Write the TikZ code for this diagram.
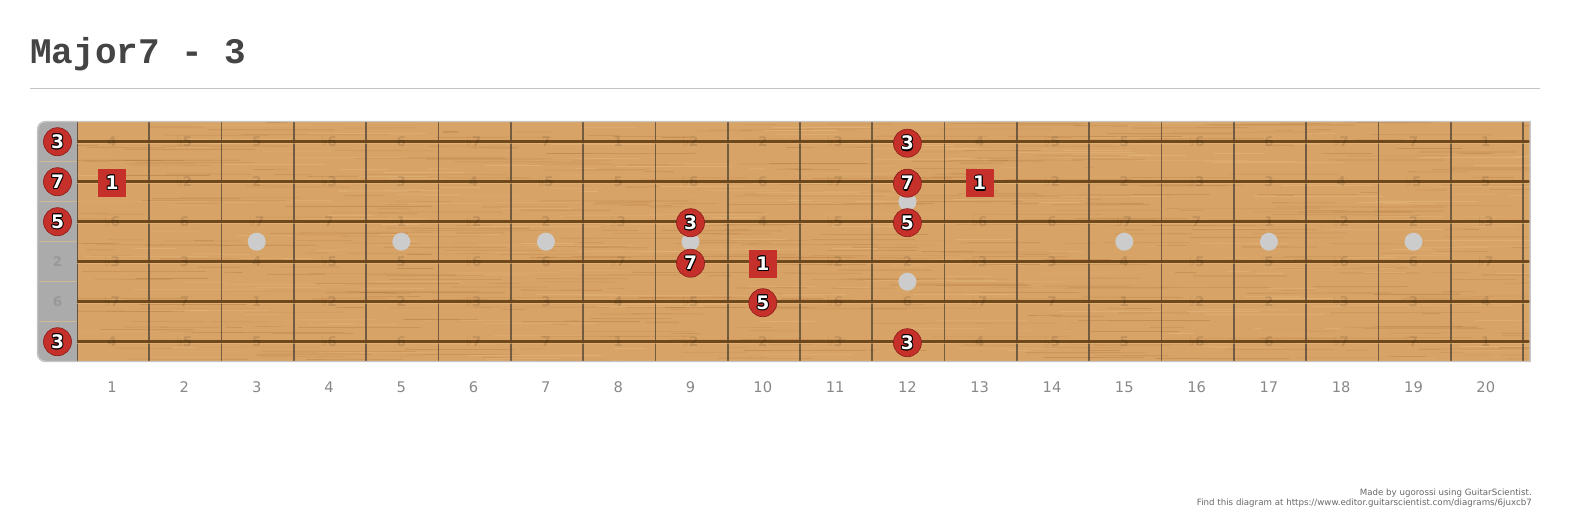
\documentclass[tikz,border=0pt]{standalone}
\usepackage{fontspec}
\setmainfont{DejaVu Sans}
\newfontfamily\titlefont{Liberation Mono}
\definecolor{wood}{HTML}{D8A366}
\definecolor{grainD}{HTML}{A46A32}
\definecolor{grainL}{HTML}{EAC088}
\definecolor{strc}{HTML}{6A4418}
\definecolor{fretc}{HTML}{5A4A3A}
\definecolor{mred}{HTML}{C6302B}
\definecolor{mredD}{HTML}{8E1F1B}
\definecolor{inlay}{HTML}{CCCCCC}
\definecolor{nutc}{HTML}{ABABAB}
\definecolor{bordc}{HTML}{C4C4C4}
\definecolor{titlec}{HTML}{444444}
\definecolor{numc}{HTML}{888888}
\definecolor{footc}{HTML}{666666}
\newsavebox\otbox
\newcommand\otext[1]{\setbox\otbox\hbox{#1}%
  \rlap{\kern0.75pt\textcolor{black}{\copy\otbox}}%
  \rlap{\kern-0.75pt\textcolor{black}{\copy\otbox}}%
  \rlap{\raise0.75pt\hbox{\textcolor{black}{\copy\otbox}}}%
  \rlap{\lower0.75pt\hbox{\textcolor{black}{\copy\otbox}}}%
  \rlap{\kern0.55pt\raise0.55pt\hbox{\textcolor{black}{\copy\otbox}}}%
  \rlap{\kern-0.55pt\raise0.55pt\hbox{\textcolor{black}{\copy\otbox}}}%
  \rlap{\kern0.55pt\lower0.55pt\hbox{\textcolor{black}{\copy\otbox}}}%
  \rlap{\kern-0.55pt\lower0.55pt\hbox{\textcolor{black}{\copy\otbox}}}%
  \rlap{\kern0.4pt\lower1.1pt\hbox{\textcolor{black}{\copy\otbox}}}%
  \textcolor{white}{\copy\otbox}}
\tikzset{
  mcirc/.style={circle, fill=mred, draw=mredD, line width=0.5pt, minimum size=21pt, inner sep=0pt, font=\bfseries\fontsize{14}{16}\selectfont},
  msq/.style={rectangle, fill=mred, minimum size=21pt, inner sep=0pt, font=\bfseries\fontsize{14}{16}\selectfont},
  faint/.style={font=\bfseries\fontsize{10}{12}\selectfont, text=black, text opacity=0.11, inner sep=0pt},
  inlaydot/.style={circle, fill=inlay, minimum size=13.5pt, inner sep=0pt},
  fretnum/.style={font=\fontsize{11}{13}\selectfont, text=numc, inner sep=0pt},
  foot/.style={font=\fontsize{6.5}{8}\selectfont, text=footc, inner sep=0pt, anchor=base east},
}
\begin{document}
\begin{tikzpicture}[x=0.75pt,y=-0.75pt]
\useasboundingbox (0,0) rectangle (1573,519);
% title
\node[anchor=base west, font=\titlefont\bfseries\fontsize{27}{30}\selectfont, text=titlec, inner sep=0pt] (title) at (30,63) {Major7 - 3};
\coordinate (r1) at (30,88);
\coordinate (r2) at (1540,88);
\draw[bordc, line width=0.75pt] (r1) -- (r2);
% board
\fill[wood] (77,122) rectangle (1530,361);
\begin{scope}
\clip (77,122) rectangle (1530,361);
\pgfmathsetseed{11}
\foreach \i in {1,...,520} {
  \pgfmathsetmacro\gy{122+rnd*239}
  \pgfmathsetmacro\gx{60+rnd*1470}
  \pgfmathsetmacro\gl{15+rnd*140}
  \pgfmathsetmacro\go{0.12+0.25*rnd}
  \draw[grainD, opacity=\go, line width=0.5pt] (\gx,\gy) -- ++(\gl,0.6*rnd-0.3);
}
\foreach \i in {1,...,280} {
  \pgfmathsetmacro\gy{122+rnd*239}
  \pgfmathsetmacro\gx{60+rnd*1470}
  \pgfmathsetmacro\gl{15+rnd*120}
  \pgfmathsetmacro\go{0.15+0.3*rnd}
  \draw[grainL, opacity=\go, line width=0.6pt] (\gx,\gy) -- ++(\gl,0);
}
\end{scope}
% nut area
\fill[nutc] (77,122) -- (46,122) arc[start angle=270, end angle=180, radius=8] -- (38,353) arc[start angle=180, end angle=90, radius=8] -- (77,361) -- cycle;
\foreach \s in {1,...,5}
  \draw[grainL, opacity=0.6, line width=0.4pt] (39,121.7+40*\s) -- (77,121.7+40*\s);
% frets
\draw[fretc, line width=1.4pt, opacity=0.9] (77.5,122) -- (77.5,361);
\foreach \f in {1,...,20}
  \draw[fretc, line width=1.3pt, opacity=0.8] ({77+\f*72.3},122) -- ({77+\f*72.3},361);
% strings
\foreach \s in {0,...,5} {
  \draw[grainL, opacity=0.5, line width=1pt] (77,{143.5+40*\s}) -- (1530,{143.5+40*\s});
  \draw[strc, line width=2.2pt, opacity=0.95] (77,{141.7+40*\s}) -- (1530,{141.7+40*\s});
}
% border
\draw[bordc, line width=1.1pt] (1530,121.5) -- (45.5,121.5) arc[start angle=270, end angle=180, radius=8] -- (37.5,353.5) arc[start angle=180, end angle=90, radius=8] -- (1530,361.5) -- cycle;
% faint interval labels (hidden where a marker sits)
\foreach \row/\labs in {0/{4,♭5,5,♭6,6,♭7,7,1,♭2,2,♭3,3,4,♭5,5,♭6,6,♭7,7,1},
                        1/{1,♭2,2,♭3,3,4,♭5,5,♭6,6,♭7,7,1,♭2,2,♭3,3,4,♭5,5},
                        2/{♭6,6,♭7,7,1,♭2,2,♭3,3,4,♭5,5,♭6,6,♭7,7,1,♭2,2,♭3},
                        3/{♭3,3,4,♭5,5,♭6,6,♭7,7,1,♭2,2,♭3,3,4,♭5,5,♭6,6,♭7},
                        4/{♭7,7,1,♭2,2,♭3,3,4,♭5,5,♭6,6,♭7,7,1,♭2,2,♭3,3,4},
                        5/{4,♭5,5,♭6,6,♭7,7,1,♭2,2,♭3,3,4,♭5,5,♭6,6,♭7,7,1}} {
  \foreach \l [count=\f] in \labs {
    \pgfmathtruncatemacro\hide{(\row==0&&\f==12)||(\row==1&&(\f==1||\f==12||\f==13))||(\row==2&&(\f==9||\f==12))||(\row==3&&(\f==9||\f==10))||(\row==4&&\f==10)||(\row==5&&\f==12)}
    \ifnum\hide=0
      \node[faint] at ({112.1+(\f-1)*72.3},{141.7+40*\row}) {\l};
    \fi
  }
}
\node[faint] (n4) at (57.5,261.7) {2};
\node[faint] (n5) at (57.5,301.7) {6};
% inlays
\foreach \f in {3,5,7,9,15,17,19}
  \node[inlaydot] (in\f) at ({112.1+(\f-1)*72.3},241.7) {};
\node[inlaydot] (in12a) at (907.4,201.7) {};
\node[inlaydot] (in12b) at (907.4,281.7) {};
% markers
\node[mcirc] (m01) at (57.5,141.7) {\otext{3}};
\node[mcirc] (m02) at (57.5,181.7) {\otext{7}};
\node[mcirc] (m03) at (57.5,221.7) {\otext{5}};
\node[mcirc] (m06) at (57.5,341.7) {\otext{3}};
\node[msq] (s1) at (112.1,182.7) {\otext{1}};
\node[mcirc] (m93) at (690.5,222.7) {\otext{3}};
\node[mcirc] (m94) at (690.5,263.2) {\otext{7}};
\node[msq] (s2) at (762.8,263.7) {\otext{1}};
\node[mcirc] (m105) at (762.8,302.7) {\otext{5}};
\node[mcirc] (m121) at (907.4,143.2) {\otext{3}};
\node[mcirc] (m122) at (907.4,183.2) {\otext{7}};
\node[mcirc] (m123) at (907.4,222.7) {\otext{5}};
\node[mcirc] (m126) at (907.4,342.7) {\otext{3}};
\node[msq] (s3) at (979.7,183.2) {\otext{1}};
% fret numbers
\foreach \f in {1,...,20}
  \node[fretnum] (fn\f) at ({112.1+(\f-1)*72.3},387) {\f};
% footer
\node[foot] (f1) at (1532,495) {Made by ugorossi using GuitarScientist.};
\node[foot] (f2) at (1532,505) {Find this diagram at https://www.editor.guitarscientist.com/diagrams/6juxcb7};
\end{tikzpicture}
\end{document}
